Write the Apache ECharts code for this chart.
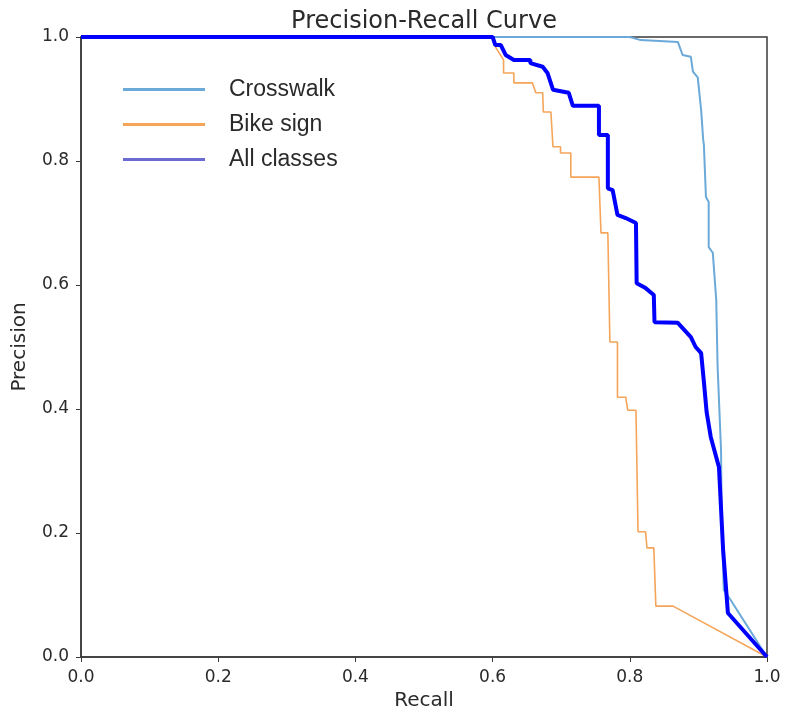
<!DOCTYPE html>
<html>
<head>
<meta charset="utf-8">
<script src="https://cdn.jsdelivr.net/npm/echarts@6/dist/echarts.min.js"></script>
<style>html,body{margin:0;padding:0;background:#fff;}#chart{width:786px;height:719px;}</style>
</head>
<body>
<div id="chart"></div>
<script>
const seriesNames = ['Crosswalk', 'Bike sign', 'All classes'];
const tickLabels = ['0.0', '0.2', '0.4', '0.6', '0.8', '1.0'];

const crosswalkRecall = [0, 0.800, 0.816, 0.870, 0.877, 0.889, 0.892, 0.899, 0.904, 0.907, 0.908, 0.911, 0.915, 0.915, 0.921, 0.926, 0.928, 0.933, 0.934, 0.937, 0.947, 1.0];
const crosswalkPrecision = [1, 1.0, 0.995, 0.992, 0.971, 0.968, 0.944, 0.935, 0.882, 0.834, 0.826, 0.742, 0.734, 0.661, 0.652, 0.576, 0.468, 0.334, 0.221, 0.108, 0.092, 0.0];

const bikeRecall = [0, 0.600, 0.604, 0.616, 0.616, 0.631, 0.631, 0.658, 0.663, 0.673, 0.674, 0.685, 0.688, 0.699, 0.699, 0.714, 0.714, 0.755, 0.758, 0.768, 0.771, 0.782, 0.782, 0.794, 0.797, 0.809, 0.812, 0.823, 0.825, 0.835, 0.838, 0.863, 1.0];
const bikePrecision = [1, 1.0, 0.984, 0.963, 0.942, 0.942, 0.926, 0.926, 0.910, 0.910, 0.879, 0.879, 0.823, 0.823, 0.813, 0.813, 0.774, 0.774, 0.684, 0.684, 0.508, 0.508, 0.419, 0.419, 0.398, 0.398, 0.202, 0.202, 0.176, 0.176, 0.082, 0.082, 0.0];

const allRecall = [0, 0.600, 0.604, 0.612, 0.619, 0.619, 0.631, 0.655, 0.655, 0.673, 0.680, 0.688, 0.711, 0.717, 0.755, 0.755, 0.768, 0.768, 0.775, 0.782, 0.794, 0.809, 0.810, 0.823, 0.835, 0.836, 0.870, 0.889, 0.896, 0.904, 0.908, 0.912, 0.918, 0.930, 0.936, 0.943, 1.0];
const allPrecision = [1, 1.0, 0.987, 0.987, 0.971, 0.968, 0.963, 0.963, 0.958, 0.952, 0.942, 0.915, 0.910, 0.889, 0.889, 0.842, 0.842, 0.756, 0.753, 0.713, 0.708, 0.700, 0.603, 0.595, 0.584, 0.540, 0.539, 0.516, 0.500, 0.490, 0.444, 0.395, 0.355, 0.306, 0.173, 0.071, 0.0];

const colors = ['#6aa9d8', '#f5a55a', '#0000ff'];
const legendColors = ['#6aa9d8', '#f5a55a', '#6b6bd2'];
const widths = [2, 1.6, 4];

function zip(xs, ys) { return xs.map((x, i) => [x, ys[i]]); }
const datasets = [zip(crosswalkRecall, crosswalkPrecision), zip(bikeRecall, bikePrecision), zip(allRecall, allPrecision)];

const chart = echarts.init(document.getElementById('chart'));
const font = 'DejaVu Sans';
const axisColor = '#3a3a3a';
chart.setOption({
  animation: false,
  backgroundColor: '#fff',
  title: {
    text: 'Precision-Recall Curve',
    left: 419, top: 5, textAlign: 'center',
    textStyle: { fontFamily: font, fontSize: 24, fontWeight: 'normal', color: '#2a2a2a' }
  },
  legend: {
    orient: 'vertical', left: 118, top: 73,
    itemWidth: 82, itemHeight: 3, itemGap: 12,
    icon: 'rect',
    textStyle: { fontFamily: 'Liberation Sans', fontSize: 23, lineHeight: 23, color: '#2a2a2a', padding: [0, 0, 0, 19] },
    data: seriesNames.map((n, i) => ({ name: n, itemStyle: { color: legendColors[i] } }))
  },
  grid: { left: 81, right: 19, top: 37, bottom: 62, show: true, borderColor: axisColor, borderWidth: 1.5 },
  xAxis: {
    type: 'value', min: 0, max: 1, interval: 0.2,
    name: 'Recall', nameLocation: 'middle', nameGap: 33,
    nameTextStyle: { fontFamily: font, fontSize: 20, color: '#2a2a2a' },
    axisLine: { show: true, lineStyle: { color: axisColor, width: 1.5 } },
    axisTick: { show: true, length: 5, lineStyle: { color: axisColor } },
    axisLabel: { fontFamily: font, fontSize: 17, color: '#2a2a2a', margin: 12, formatter: v => tickLabels[Math.round(v * 5)] },
    splitLine: { show: false }
  },
  yAxis: {
    type: 'value', min: 0, max: 1, interval: 0.2,
    name: 'Precision', nameLocation: 'middle', nameGap: 51,
    nameTextStyle: { fontFamily: font, fontSize: 20, color: '#2a2a2a' },
    axisLine: { show: true, lineStyle: { color: axisColor, width: 1.5 } },
    axisTick: { show: true, length: 5, lineStyle: { color: axisColor } },
    axisLabel: { fontFamily: font, fontSize: 17, color: '#2a2a2a', margin: 12, formatter: v => tickLabels[Math.round(v * 5)] },
    splitLine: { show: false }
  },
  series: seriesNames.map((n, i) => ({
    name: n, type: 'line', data: datasets[i], showSymbol: false, symbol: 'none',
    lineStyle: { color: colors[i], width: widths[i] }, itemStyle: { color: legendColors[i] },
    z: 2 + i
  }))
});
</script>
</body>
</html>
